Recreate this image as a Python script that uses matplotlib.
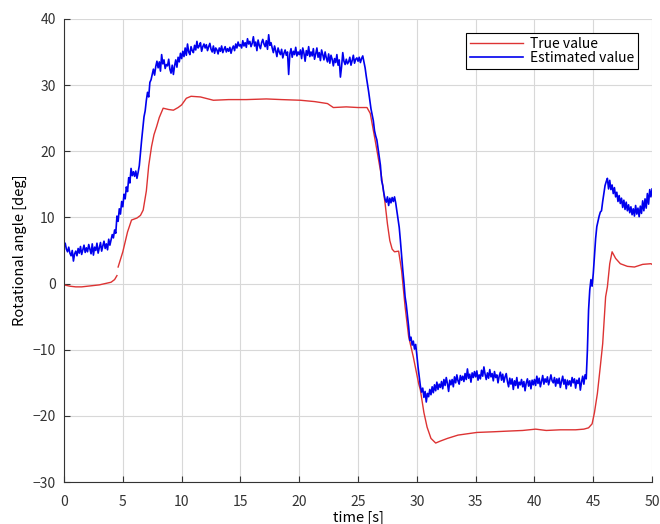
import numpy as np
import matplotlib
matplotlib.use('Agg')
import matplotlib.pyplot as plt

plt.rcParams['font.family'] = ['Noto Sans CJK JP', 'DejaVu Sans']

# True value (red); nan marks the short gap near 4.5 s
true_t = [0, 0.5, 1, 1.5, 2, 2.5, 3, 3.5, 4, 4.3, 4.5, 4.55, 4.6, 5.0, 5.4, 5.74,
          6.2, 6.5, 6.73, 7.0, 7.2, 7.44, 7.65, 7.87, 8.1, 8.43, 8.9, 9.3, 9.7, 10.0,
          10.4, 10.8, 11.6, 12.7, 14.0, 15.5, 17.2, 18.5, 20.1, 21.3, 22.4, 22.9, 24.0,
          25.0, 25.76, 26.04, 26.5, 27.0, 27.3, 27.5, 27.7, 27.9, 28.1, 28.45, 28.7,
          29.0, 29.3, 29.7, 30.15, 30.3, 30.6, 30.87, 31.2, 31.6, 32.0, 32.6, 33.5,
          35.1, 36.5, 37.7, 39.0, 40.1, 41.0, 42.2, 43.5, 44.2, 44.6, 44.9, 45.1,
          45.35, 45.6, 45.8, 46.05, 46.2, 46.4, 46.6, 46.9, 47.3, 47.9, 48.5, 49.2,
          49.9, 50]
true_v = [-0.2, -0.4, -0.5, -0.5, -0.4, -0.3, -0.2, 0.0, 0.2, 0.6, 1.2, np.nan, 2.5,
          4.8, 7.8, 9.6, 9.9, 10.3, 11.1, 14.0, 17.8, 20.7, 22.5, 23.7, 25.1, 26.5,
          26.3, 26.2, 26.6, 27.0, 28.0, 28.3, 28.2, 27.7, 27.8, 27.8, 27.9, 27.8, 27.7,
          27.5, 27.2, 26.6, 26.7, 26.6, 26.6, 25.7, 21.2, 16.1, 12.1, 9.0, 6.5, 5.2,
          4.8, 4.9, 2.0, -3.5, -8.0, -11.1, -15.1, -16.1, -19.5, -21.7, -23.4, -24.1,
          -23.8, -23.4, -22.9, -22.5, -22.4, -22.3, -22.2, -22.0, -22.2, -22.1, -22.1,
          -22.0, -21.8, -21.2, -19.5, -16.6, -12.5, -9.1, -2.0, -0.5, 3.0, 4.8, 3.8,
          3.0, 2.6, 2.5, 2.9, 3.0, 2.9]

# Estimated value (blue), one row per second, 0.1 s apart
est_v = [
    5.8, 6.1, 5.2, 4.8, 5.5, 4.6, 4.2, 5.0, 3.4, 4.5,
    4.9, 4.2, 5.3, 4.6, 5.6, 4.4, 5.1, 5.8, 4.7, 5.4,
    4.8, 5.9, 5.2, 4.5, 6.0, 4.3, 5.5, 5.0, 6.1, 4.6,
    5.4, 6.2, 4.9, 5.7, 6.4, 5.3, 6.0, 5.1, 6.7, 5.8,
    6.6, 7.4, 6.9, 8.1, 7.6, 10.2, 9.4, 11.3, 10.5, 12.4,
    11.6, 13.5, 12.8, 14.6, 13.9, 16.0, 15.2, 17.4, 16.3, 16.9,
    16.2, 17.0, 15.9, 16.8, 17.8, 19.8, 21.7, 23.4, 25.2, 26.1,
    27.7, 28.9, 28.2, 30.4, 30.8, 31.6, 32.4, 31.5, 32.8, 33.6,
    32.6, 33.5, 32.1, 34.6, 33.2, 33.8, 32.5, 33.1, 32.9, 33.9,
    32.4, 31.8, 33.0, 31.6, 32.9, 33.8, 32.7, 34.2, 33.5, 34.8,
    34.0, 35.1, 34.3, 35.6, 34.5, 36.2, 35.0, 34.6, 35.8, 35.2,
    34.9, 36.0, 35.3, 36.6, 35.6, 35.9, 36.4, 35.1, 35.8, 36.2,
    35.6, 36.1, 35.2, 35.8, 36.3, 35.4, 35.0, 35.9, 34.8, 35.6,
    35.3, 34.7, 35.6, 35.1, 35.9, 34.9, 35.4, 35.8, 35.0, 35.5,
    35.1, 35.7, 34.8, 35.5, 35.9, 35.2, 36.2, 35.6, 36.5, 35.9,
    36.1, 35.6, 36.7, 35.9, 36.4, 35.7, 37.0, 36.2, 36.6, 35.8,
    36.3, 37.3, 35.9, 36.5, 35.2, 36.8, 36.0, 35.5, 36.4, 36.9,
    36.2, 35.8, 36.7, 35.4, 37.6, 36.0, 36.4, 35.6, 34.9, 35.9,
    35.2, 34.3, 35.6, 35.0, 34.6, 35.4, 34.1, 34.8, 35.3, 34.5,
    35.0, 31.6, 34.7, 35.5, 34.2, 35.1, 34.6, 35.7, 34.4, 35.0,
    34.6, 35.3, 34.0, 35.6, 34.8, 33.6, 35.2, 34.5, 35.8, 34.3,
    35.0, 34.4, 35.5, 33.9, 34.7, 35.6, 34.2, 34.9, 33.7, 35.3,
    34.6, 33.8, 35.0, 34.1, 33.5, 34.7, 33.3, 34.5, 33.9, 32.9,
    34.0, 33.4, 34.6, 33.0, 33.8, 31.2, 32.8, 34.9, 33.6, 33.1,
    33.9, 33.2, 33.5, 34.2, 33.0, 33.7, 34.5, 33.3, 33.9, 34.1,
    33.6, 34.2, 33.4, 34.0, 34.4, 33.5, 32.6, 31.3, 30.2, 29.0,
    27.7, 26.4, 25.5, 24.6, 23.1, 22.3, 21.7, 20.4, 19.2, 17.9,
    15.6, 14.8, 13.6, 12.7, 12.3, 13.1, 11.8, 12.9, 12.2, 13.0,
    12.4, 13.1, 12.2, 11.0, 9.7, 8.5, 6.5, 4.3, 2.1, 0.2,
    -2.0, -3.2, -4.8, -6.5, -8.6, -8.1, -9.3, -8.7, -9.9, -9.2,
    -10.8, -12.6, -14.1, -15.5, -16.4, -15.8, -17.2, -16.3, -17.9, -16.6,
    -17.1, -16.0, -16.8, -15.6, -16.5, -15.3, -16.2, -14.9, -16.0, -15.2,
    -15.7, -14.8, -15.9, -14.5, -15.4, -14.2, -15.1, -16.3, -14.6, -15.3,
    -14.5, -15.6, -14.1, -15.0, -13.8, -14.7, -15.2, -13.9, -14.6, -14.0,
    -14.8, -13.6, -14.5, -12.9, -14.3, -13.7, -14.9, -13.5, -14.2, -13.3,
    -14.1, -13.2, -14.6, -13.8, -14.4, -13.1, -14.0, -12.6, -13.7, -14.5,
    -13.5, -14.3, -13.0, -14.1, -13.6, -14.7, -13.3, -14.2, -13.8, -15.0,
    -14.0, -13.4, -14.6, -13.7, -14.9, -14.1, -13.6, -14.8, -15.6, -14.3,
    -15.2, -14.4, -16.0, -14.7, -15.4, -14.2, -15.8, -14.9, -15.3, -14.5,
    -15.6, -14.8, -16.2, -15.0, -14.4, -15.5, -14.7, -15.9, -14.6, -15.3,
    -14.5, -15.4, -14.0, -15.1, -14.3, -15.6, -14.8, -13.9, -15.2, -14.4,
    -14.9, -14.1, -15.3, -14.6, -13.8, -14.7, -15.0, -14.2, -15.5, -14.4,
    -15.1, -14.3, -15.7, -14.8, -14.0, -15.2, -14.5, -15.9, -14.6, -15.3,
    -14.7, -15.5, -14.2, -15.0, -14.4, -15.8, -14.6, -15.1, -14.3, -16.1,
    -14.9, -14.0, -15.2, -13.8, -14.4, -10.1, -4.0, -1.0, 0.6, -0.4,
    1.5, 4.2, 6.8, 8.6, 9.4, 10.2, 10.8, 11.0, 12.4, 13.6,
    14.8, 15.4, 15.9, 14.3, 15.6, 14.2, 14.9, 13.6, 14.5, 13.1,
    13.8, 12.4, 13.3, 12.1, 12.9, 11.5, 12.6, 11.2, 12.3, 11.0,
    11.9, 10.7, 11.6, 10.4, 11.3, 10.2, 11.8, 10.5, 11.4, 10.1,
    11.7, 10.6, 12.5, 11.0, 12.8, 11.4, 13.6, 12.0, 14.2, 13.1,
    14.3,
]
est_t = [i / 10 for i in range(len(est_v))]

fig = plt.figure(figsize=(6.6, 5.24), dpi=100)
ax = fig.add_axes([0.097, 0.080, 0.891, 0.884])

ax.plot(true_t, true_v, color='#dd3333', linewidth=1.0, label='True value')
ax.plot(est_t, est_v, color='#0000ee', linewidth=1.2, label='Estimated value')

ax.set_xlim(0, 50)
ax.set_ylim(-30, 40)
ax.set_xticks(np.arange(0, 51, 5))
ax.set_yticks(np.arange(-30, 41, 10))
ax.grid(True, color='#d8d8d8', linewidth=0.8)
ax.set_axisbelow(True)
for s in ['top', 'right']:
    ax.spines[s].set_visible(False)
for s in ['left', 'bottom']:
    ax.spines[s].set_color('#333333')
ax.tick_params(direction='in', length=4, labelsize=10, colors='#333333')
ax.tick_params(axis='x', pad=9)
ax.tick_params(axis='y', pad=6)

ax.set_xlabel('time [s]', fontsize=10.5, labelpad=2)
ax.set_ylabel('Rotational angle [deg]', fontsize=10.5, labelpad=4)

leg = ax.legend(loc='upper right', fontsize=10, fancybox=False, edgecolor='black',
                framealpha=1, handlelength=3.8, handletextpad=0.5, labelspacing=0.0,
                borderpad=0.3, borderaxespad=1.0)
leg.get_frame().set_linewidth(0.8)

fig.savefig('out.png', dpi=100)
